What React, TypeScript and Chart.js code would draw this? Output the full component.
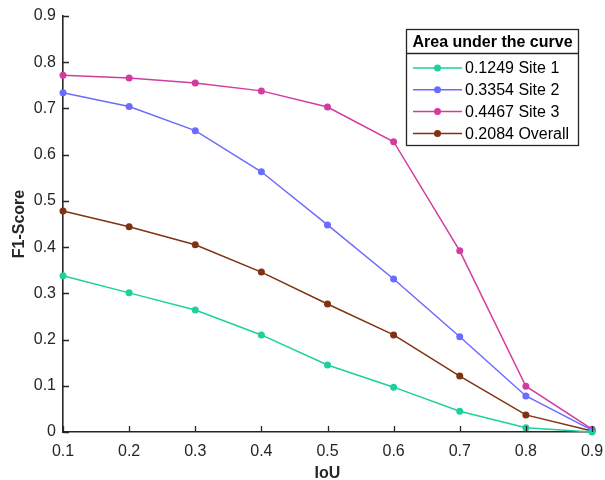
import React, { useEffect, useRef } from "react";
import { Chart, registerables } from "chart.js";

Chart.register(...registerables);

const iou = [0.1, 0.2, 0.3, 0.4, 0.5, 0.6, 0.7, 0.8, 0.9];
const site1 = [0.338, 0.301, 0.264, 0.21, 0.145, 0.097, 0.045, 0.009, 0.0];
const site2 = [0.734, 0.704, 0.652, 0.563, 0.448, 0.331, 0.206, 0.078, 0.004];
const site3 = [0.772, 0.766, 0.755, 0.738, 0.703, 0.628, 0.392, 0.099, 0.006];
const overall = [0.478, 0.444, 0.405, 0.346, 0.277, 0.21, 0.121, 0.037, 0.002];
const seriesLabels = ["0.1249 Site 1", "0.3354 Site 2", "0.4467 Site 3", "0.2084 Overall"];
const seriesColors = ["#1dd09c", "#6b6bff", "#d23ca0", "#7f3310"];
const legendTitle = "Area under the curve";
const xTitle = "IoU";
const yTitle = "F1-Score";

const AXIS = "#262626";
const FONT = "'Liberation Sans', Arial, sans-serif";

const inwardTicks = {
  id: "inwardTicks",
  afterDatasetsDraw(chart: any) {
    const { ctx, chartArea } = chart;
    const xs = chart.scales.x;
    const ys = chart.scales.y;
    ctx.save();
    ctx.strokeStyle = AXIS;
    ctx.lineWidth = 1.3;
    ctx.beginPath();
    xs.ticks.forEach((t: any) => {
      const px = Math.round(xs.getPixelForValue(t.value)) + 0.5;
      ctx.moveTo(px, chartArea.bottom);
      ctx.lineTo(px, chartArea.bottom - 6);
    });
    ys.ticks.forEach((t: any) => {
      const py = Math.round(ys.getPixelForValue(t.value)) + 0.5;
      ctx.moveTo(chartArea.left, py);
      ctx.lineTo(chartArea.left + 6, py);
    });
    ctx.stroke();
    ctx.restore();
  },
};

const boxLegend = {
  id: "boxLegend",
  afterDraw(chart: any) {
    const { ctx } = chart;
    const x0 = 406.5, y0 = 29.5, w = 172, h = 116;
    const sep = 53.5;
    ctx.save();
    ctx.fillStyle = "#ffffff";
    ctx.fillRect(x0, y0, w, h);
    ctx.strokeStyle = AXIS;
    ctx.lineWidth = 1.3;
    ctx.strokeRect(x0, y0, w, h);
    ctx.beginPath();
    ctx.moveTo(x0, sep);
    ctx.lineTo(x0 + w, sep);
    ctx.stroke();
    ctx.fillStyle = "#000000";
    ctx.font = `bold 16px ${FONT}`;
    ctx.textAlign = "center";
    ctx.textBaseline = "middle";
    ctx.fillText(legendTitle, x0 + w / 2, 42.5);
    ctx.font = `16px ${FONT}`;
    ctx.textAlign = "left";
    chart.data.datasets.forEach((ds: any, i: number) => {
      const y = 68 + i * 21.8;
      ctx.strokeStyle = ds.borderColor;
      ctx.lineWidth = 1.5;
      ctx.beginPath();
      ctx.moveTo(413, y);
      ctx.lineTo(462, y);
      ctx.stroke();
      ctx.fillStyle = ds.borderColor;
      ctx.beginPath();
      ctx.arc(437.5, y, 3.5, 0, Math.PI * 2);
      ctx.fill();
      ctx.fillStyle = "#000000";
      ctx.fillText(ds.label, 465, y + 1);
    });
    ctx.restore();
  },
};

export default function App() {
  const ref = useRef<HTMLCanvasElement>(null);
  useEffect(() => {
    if (!ref.current) return;
    const all = [site1, site2, site3, overall];
    const chart = new Chart(ref.current, {
      type: "line",
      data: {
        datasets: all.map((vals, i) => ({
          label: seriesLabels[i],
          data: vals.map((v, j) => ({ x: iou[j], y: v })),
          borderColor: seriesColors[i],
          backgroundColor: seriesColors[i],
          pointBackgroundColor: seriesColors[i],
          pointBorderColor: seriesColors[i],
          borderWidth: 1.5,
          pointRadius: 3.5,
          pointBorderWidth: 0,
          tension: 0,
          clip: false as any,
        })),
      },
      options: {
        animation: false,
        responsive: false,
        maintainAspectRatio: false,
        layout: { padding: { left: 0, right: 13, top: 16, bottom: 0 } },
        plugins: { legend: { display: false }, tooltip: { enabled: false } },
        scales: {
          x: {
            type: "linear",
            min: 0.1,
            max: 0.9,
            ticks: {
              stepSize: 0.1,
              color: AXIS,
              font: { family: FONT, size: 16 },
              padding: 10,
              maxRotation: 0,
              callback: (v: any) => Number(v).toFixed(1),
            },
            grid: { display: true, drawOnChartArea: false, drawTicks: false },
            border: { display: true, color: AXIS, width: 1.6 },
            title: {
              display: true,
              text: xTitle,
              color: AXIS,
              font: { family: FONT, size: 16, weight: "bold" },
              padding: { top: 0, bottom: -3 },
            },
            afterFit: (s: any) => {
              s.height = 48;
              s.paddingLeft = 0;
              s.paddingRight = 0;
            },
          },
          y: {
            type: "linear",
            min: 0,
            max: 0.9,
            ticks: {
              stepSize: 0.1,
              color: AXIS,
              font: { family: FONT, size: 16 },
              padding: 7,
              callback: (v: any) => (Number(v) === 0 ? "0" : Number(v).toFixed(1)),
            },
            grid: { display: true, drawOnChartArea: false, drawTicks: false },
            border: { display: true, color: AXIS, width: 1.6 },
            title: {
              display: true,
              text: yTitle,
              color: AXIS,
              font: { family: FONT, size: 16, weight: "bold" },
              padding: { top: 9.5, bottom: 0 },
            },
            afterFit: (s: any) => {
              s.width = 63;
              s.paddingTop = 0;
              s.paddingBottom = 0;
            },
          },
        },
      },
      plugins: [inwardTicks, boxLegend],
    });
    return () => chart.destroy();
  }, []);
  return (
    <div style={{ position: "fixed", left: 0, top: 0, width: 605, height: 480, background: "#fff" }}>
      <canvas ref={ref} width={605} height={480} style={{ display: "block" }} />
    </div>
  );
}
